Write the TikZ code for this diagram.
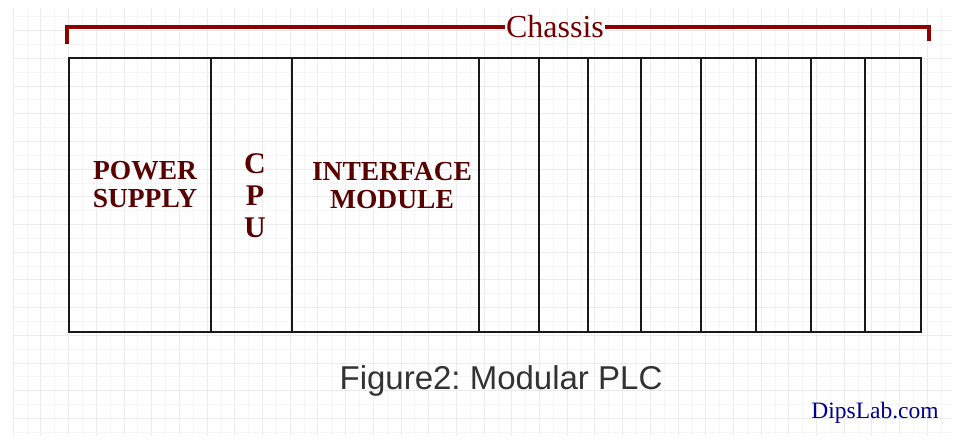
\documentclass[tikz,border=0pt]{standalone}
\usepackage{fontspec}
\setmainfont{Liberation Serif}
\newfontfamily\figsans{Liberation Sans}
\frenchspacing
\begin{document}
\begin{tikzpicture}[x=1pt,y=-1pt,
  gridmajor/.style={draw=black!8,line width=0.6pt},
  gridminor/.style={draw=black!4,line width=0.5pt},
  slot/.style={draw=black!90,line width=2.8pt,rectangle,minimum height=274pt,
    anchor=north west,inner sep=0pt,outer sep=0pt},
  label/.style={font=\bfseries\fontsize{27.5}{28}\selectfont,text=red!35!black,align=center},
  bracket/.style={draw=red!55!black,line width=3.6pt,line cap=butt},
]
\useasboundingbox (0,0) rectangle (964,440);
% background grid paper
\foreach \k in {0,...,67} {
  \pgfmathsetmacro{\gx}{13+13.85*\k}
  \ifodd\k
    \draw[gridminor] (\gx,8) -- (\gx,436);
  \else
    \draw[gridmajor] (\gx,8) -- (\gx,436);
  \fi
}
\foreach \k in {0,...,31} {
  \pgfmathsetmacro{\gy}{16.6+13.85*\k}
  \ifodd\k
    \draw[gridmajor] (13,\gy) -- (952,\gy);
  \else
    \draw[gridminor] (13,\gy) -- (952,\gy);
  \fi
}
% chassis slots
\node[slot,minimum width=142pt] (ps)   at (69,58)  {};
\node[slot,minimum width=81pt]  (cpu)  at (211,58) {};
\node[slot,minimum width=187pt] (ifm)  at (292,58) {};
\node[slot,minimum width=60pt]  (s1)   at (479,58) {};
\node[slot,minimum width=49pt]  (s2)   at (539,58) {};
\node[slot,minimum width=53pt]  (s3)   at (588,58) {};
\node[slot,minimum width=60pt]  (s4)   at (641,58) {};
\node[slot,minimum width=55pt]  (s5)   at (701,58) {};
\node[slot,minimum width=55pt]  (s6)   at (756,58) {};
\node[slot,minimum width=54pt]  (s7)   at (811,58) {};
\node[slot,minimum width=56pt]  (s8)   at (865,58) {};
% module labels
\node[label] (pstext) at (145,185) {POWER\\SUPPLY};
\node[label,font=\bfseries\fontsize{30}{32}\selectfont] (cputext) at (255,196) {C\\P\\U};
\node[label] (ifmtext) at (392,186) {INTERFACE\\MODULE};
% chassis bracket
\node[font=\fontsize{32}{34}\selectfont,text=red!45!black,inner sep=1pt] (chassis) at (555,27) {Chassis};
\coordinate (bl) at (67,44);
\coordinate (br) at (929,41);
\draw[bracket] (bl) |- (chassis.west);
\draw[bracket] (br) |- (chassis.east);
% captions
\node[font=\figsans\fontsize{33}{35}\selectfont,text=black!80] (caption) at (501,381) {Figure2: Modular PLC};
\node[font=\fontsize{23.5}{25}\selectfont,text=blue!55!black] (credit) at (875,413) {DipsLab.com};
\end{tikzpicture}
\end{document}
